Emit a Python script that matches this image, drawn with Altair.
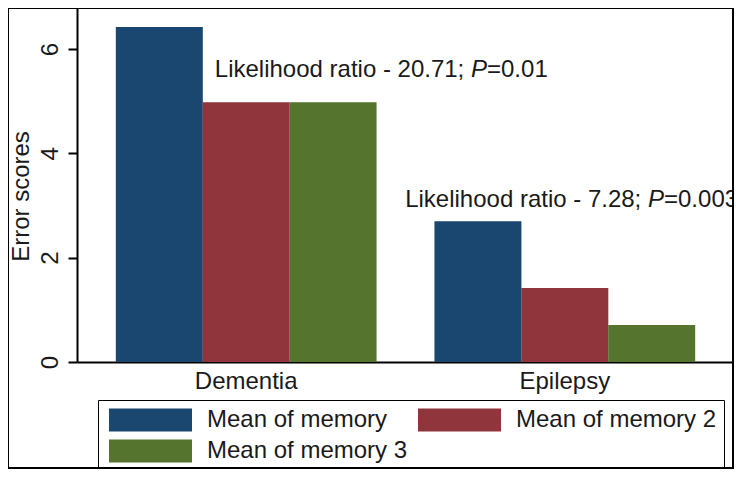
import altair as alt
import pandas as pd

groups = ["Dementia", "Epilepsy"]
series = ["Mean of memory", "Mean of memory 2", "Mean of memory 3"]
dementia_vals = [6.42, 4.98, 4.98]
epilepsy_vals = [2.70, 1.42, 0.71]
colors = ["#1a476f", "#90353b", "#55752f"]

ann_prefix = ["Likelihood ratio - 20.71;", "Likelihood ratio - 7.28;"]
ann_italic = ["P", "P"]
ann_suffix = ["=0.01", "=0.003"]
ann_y = [5.6, 3.1]

rows = []
for g, vals in zip(groups, [dementia_vals, epilepsy_vals]):
    for s, v in zip(series, vals):
        rows.append({"group": g, "series": s, "value": v})
df = pd.DataFrame(rows)

FONT = "Liberation Sans"
TXT = "#1a1a1a"

bars = alt.Chart(df).mark_bar(size=87).encode(
    x=alt.X("group:N", sort=groups,
            scale=alt.Scale(paddingInner=0.182, paddingOuter=0.122),
            axis=alt.Axis(title=None, labelAngle=0, labelFontSize=24, labelFont=FONT,
                          labelColor=TXT, ticks=False, tickSize=0, labelPadding=19,
                          labelBaseline="middle", domainColor="black", domainWidth=2)),
    xOffset=alt.XOffset("series:N", sort=series,
                        scale=alt.Scale(paddingInner=0, paddingOuter=0)),
    y=alt.Y("value:Q", scale=alt.Scale(domain=[0, 6.786], nice=False, zero=True),
            axis=alt.Axis(title="Error scores", values=[0, 2, 4, 6], format="d",
                          grid=False, labelAngle=270, labelAlign="center",
                          labelBaseline="middle", labelPadding=18, labelFontSize=24,
                          labelFont=FONT, labelColor=TXT, tickSize=9, tickWidth=2,
                          tickColor="black", domainColor="black", domainWidth=2,
                          titleFontSize=24, titleFont=FONT, titleFontWeight="normal",
                          titleColor=TXT, titleAngle=270, titleX=-56, titleY=188,
                          titleAlign="center", titleBaseline="middle")),
    color=alt.Color("series:N", sort=series,
                    scale=alt.Scale(domain=series, range=colors),
                    legend=alt.Legend(title=None, orient="none", legendX=21, legendY=392,
                                      direction="horizontal",
                                      columns=2, symbolType="M-1,-0.277H1V0.277H-1Z",
                                      symbolSize=6889, symbolStrokeWidth=0, symbolOpacity=1,
                                      symbolOffset=4, labelOffset=15, clipHeight=26,
                                      rowPadding=5, columnPadding=6, padding=7,
                                      strokeColor="black", labelFontSize=24,
                                      labelFont=FONT, labelColor=TXT, labelLimit=400)),
)

ann = pd.DataFrame({"prefix": ann_prefix, "ital": ann_italic, "suffix": ann_suffix, "y": ann_y})

# anchor x positions (pixels in plot area) where the italic P begins
anchors = [394, 571]
text_layers = []
for i in range(2):
    d = ann.iloc[[i]]
    base = alt.Chart(d)
    text_layers.append(base.mark_text(align="right", baseline="middle", fontSize=24,
                                      font=FONT, color=TXT).encode(
        x=alt.value(anchors[i] - 6.7), y=alt.Y("y:Q"), text="prefix:N"))
    text_layers.append(base.mark_text(align="left", baseline="middle", fontSize=24,
                                      font=FONT, fontStyle="italic", color=TXT).encode(
        x=alt.value(anchors[i]), y=alt.Y("y:Q"), text="ital:N"))
    text_layers.append(base.mark_text(align="left", baseline="middle", fontSize=24,
                                      font=FONT, color=TXT).encode(
        x=alt.value(anchors[i] + 16), y=alt.Y("y:Q"), text="suffix:N"))

frame = alt.Chart(alt.Data(values=[{"a": 1}])).mark_rect(
    fillOpacity=0, stroke="black", strokeWidth=2).encode(
    x=alt.value(-69), x2=alt.value(656), y=alt.value(0), y2=alt.value(460))

chart = alt.layer(bars, *text_layers, frame).properties(
    width=657, height=354,
    autosize=alt.AutoSizeParams(type="none"),
    padding={"left": 69, "top": 0, "right": 0, "bottom": 107},
    background="white",
).configure_view(stroke=None)

chart.save("out.html", embed_options={"renderer": "svg", "actions": False})
